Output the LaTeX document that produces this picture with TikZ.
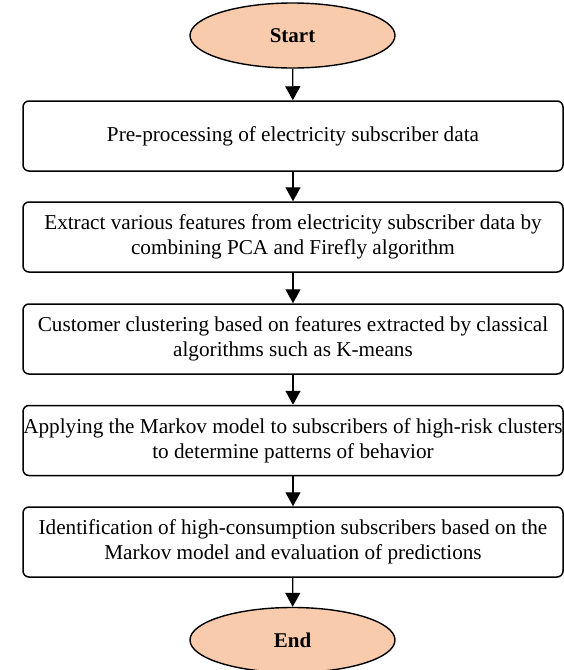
\documentclass[tikz,border=0pt]{standalone}
\usepackage{fontspec}
\setmainfont{Liberation Serif}
\usetikzlibrary{arrows.meta,shapes.geometric}
\definecolor{peach}{RGB}{248,203,173}
\tikzset{
  x=1pt,y=1pt,
  stepbox/.style={draw,line width=1.5pt,rounded corners=6pt,minimum width=540pt,minimum height=70pt,align=center,font=\fontsize{21.2}{25}\selectfont,inner sep=0pt},
  term/.style={draw,ellipse,fill=peach,line width=1.4pt,minimum width=205pt,minimum height=65pt,inner sep=0pt,font=\fontsize{21}{24}\selectfont\bfseries},
  arr/.style={line width=1.3pt,-{Triangle[length=14pt,width=15pt]}}
}
\begin{document}
\begin{tikzpicture}
\useasboundingbox (0,0) rectangle (564,-670);
\node[term] (start) at (292.5,-35.5) {Start};
\node[stepbox] (b1) at (293,-136) {Pre-processing of electricity subscriber data};
\node[stepbox] (b2) at (293,-237) {Extract various features from electricity subscriber data by\\combining PCA and Firefly algorithm};
\node[stepbox] (b3) at (293,-339) {Customer clustering based on features extracted by classical\\algorithms such as K-means};
\node[stepbox] (b4) at (293,-440.5) {Applying the Markov model to subscribers of high-risk clusters\\to determine patterns of behavior};
\node[stepbox] (b5) at (293,-542) {Identification of high-consumption subscribers based on the\\Markov model and evaluation of predictions};
\node[term] (end) at (292.5,-640) {End};
\draw[arr] (start) -- (b1);
\draw[arr] (b1) -- (b2);
\draw[arr] (b2) -- (b3);
\draw[arr] (b3) -- (b4);
\draw[arr] (b4) -- (b5);
\draw[arr] (b5) -- (end);
\end{tikzpicture}
\end{document}
